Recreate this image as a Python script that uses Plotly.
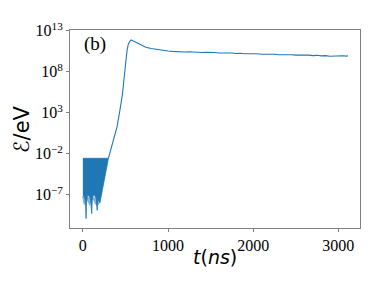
import plotly.graph_objects as go

# ---- data (energies given as log10(E/eV)) ----
# dense oscillation block at early times: upper and lower envelopes
block_top_t = [0, 300]
block_top_log = [-2.55, -2.55]
block_low_t = [0, 8, 20, 32, 38, 42, 55, 70, 90, 104, 110, 125, 140, 158, 168, 174, 190, 200, 250, 300]
block_low_log = [-7.4, -7.1, -7.2, -8.0, -9.9, -8.0, -7.0, -7.1, -7.4, -9.3, -7.6, -7.0, -7.1, -7.5, -8.9, -7.8, -7.6, -8.0, -5.3, -2.55]
# faint wisps below the solid block
wisp_t = [0, 20, 45, 60, 80, 100, 120, 140, 160, 185, 200]
wisp_log = [-7.9, -8.3, -7.6, -7.9, -8.4, -7.8, -7.6, -8.1, -8.3, -8.2, -8.0]

# growth, peak and noisy saturation
t_line = [300, 350, 401, 430, 465, 485, 504, 520, 535, 548, 560, 571, 600, 640, 690, 740,
          800, 850, 900, 950, 1000, 1050, 1100, 1150, 1200, 1250, 1300, 1350, 1400, 1450,
          1500, 1550, 1600, 1650, 1700, 1750, 1800, 1850, 1900, 1950, 2000, 2050, 2100,
          2150, 2200, 2250, 2300, 2350, 2400, 2450, 2500, 2550, 2600, 2650, 2700, 2750,
          2800, 2850, 2900, 2950, 3000, 3050, 3100, 3113]
log_line = [-2.55, -0.5, 1.29, 3.0, 5.24, 7.3, 9.32, 10.7, 11.4, 11.75, 11.85, 11.87, 11.72, 11.5, 11.2, 11.0,
            10.84, 10.74, 10.68, 10.58, 10.53, 10.49, 10.45, 10.47, 10.41, 10.44, 10.38, 10.40, 10.35, 10.38,
            10.32, 10.35, 10.30, 10.33, 10.27, 10.30, 10.24, 10.27, 10.20, 10.23, 10.17, 10.20, 10.14,
            10.17, 10.11, 10.14, 10.09, 10.11, 10.06, 10.09, 10.03, 10.06, 10.01, 10.04, 9.97, 10.01,
            9.94, 9.97, 9.89, 9.93, 9.88, 9.96, 9.92, 9.97]

ytick_exp = [-7, -2, 3, 8, 13]
xtick_vals = [0, 1000, 2000, 3000]

BLUE = "#1f77b4"
SPINE = "#7f7f7f"

def to_e(logs):
    return [10 ** v for v in logs]

fig = go.Figure()

# faint wisps
fig.add_trace(go.Scatter(
    x=block_low_t[:1] + wisp_t + [200, 0],
    y=to_e([-7.2] + wisp_log + [-7.4, -7.2]),
    fill="toself", fillcolor="rgba(31,119,180,0.55)",
    line=dict(width=0), mode="lines", hoverinfo="skip", showlegend=False))

# solid block
bx = block_top_t + block_low_t[::-1]
by = to_e(block_top_log + block_low_log[::-1])
fig.add_trace(go.Scatter(
    x=bx, y=by, fill="toself", fillcolor=BLUE,
    line=dict(color=BLUE, width=0.8), mode="lines", showlegend=False))

# energy curve
fig.add_trace(go.Scatter(
    x=t_line, y=to_e(log_line), mode="lines",
    line=dict(color=BLUE, width=1.1), showlegend=False))

# page body has an 8px default margin: size the figure to fit inside it
fig.update_layout(
    width=366, height=271,
    margin=dict(l=62, r=14, t=18, b=50.5),
    paper_bgcolor="white", plot_bgcolor="white",
    showlegend=False,
    font=dict(family="Liberation Serif", size=16, color="black"),
)

fig.update_xaxes(
    range=[-151, 3255], showgrid=False, zeroline=False,
    tickvals=xtick_vals, ticktext=[str(v) for v in xtick_vals],
    ticks="outside", ticklen=3, tickwidth=1, tickcolor=SPINE,
    showline=True, linecolor=SPINE, linewidth=1, mirror=True,
    tickfont=dict(family="Liberation Serif", size=16, color="black"),
)
fig.update_yaxes(
    type="log", range=[-11.05, 13.1], showgrid=False, zeroline=False,
    tickvals=[10 ** e for e in ytick_exp],
    ticktext=["10<sup>%s</sup>" % (str(e).replace("-", "\u2212")) for e in ytick_exp],
    ticks="outside", ticklen=3, tickwidth=1, tickcolor=SPINE,
    showline=True, linecolor=SPINE, linewidth=1, mirror=True,
    tickfont=dict(family="Liberation Serif", size=16, color="black"),
)

fig.add_annotation(text="(b)", xref="paper", yref="paper", x=0.086, y=0.93,
                   xanchor="center", yanchor="middle",
                   showarrow=False, font=dict(family="Liberation Serif", size=19, color="black"))
fig.add_annotation(text="<i>\u2130</i>/eV", xref="paper", yref="paper", x=-0.165, y=0.5,
                   xanchor="center", yanchor="middle",
                   textangle=-90, showarrow=False,
                   font=dict(family="DejaVu Sans", size=21, color="black"))
fig.add_annotation(text="<i>t</i>(<i>ns</i>)", xref="paper", yref="paper", x=0.5, y=-0.145,
                   xanchor="center", yanchor="middle",
                   showarrow=False, font=dict(family="DejaVu Sans", size=19, color="black"))

fig.write_html("out.html")
